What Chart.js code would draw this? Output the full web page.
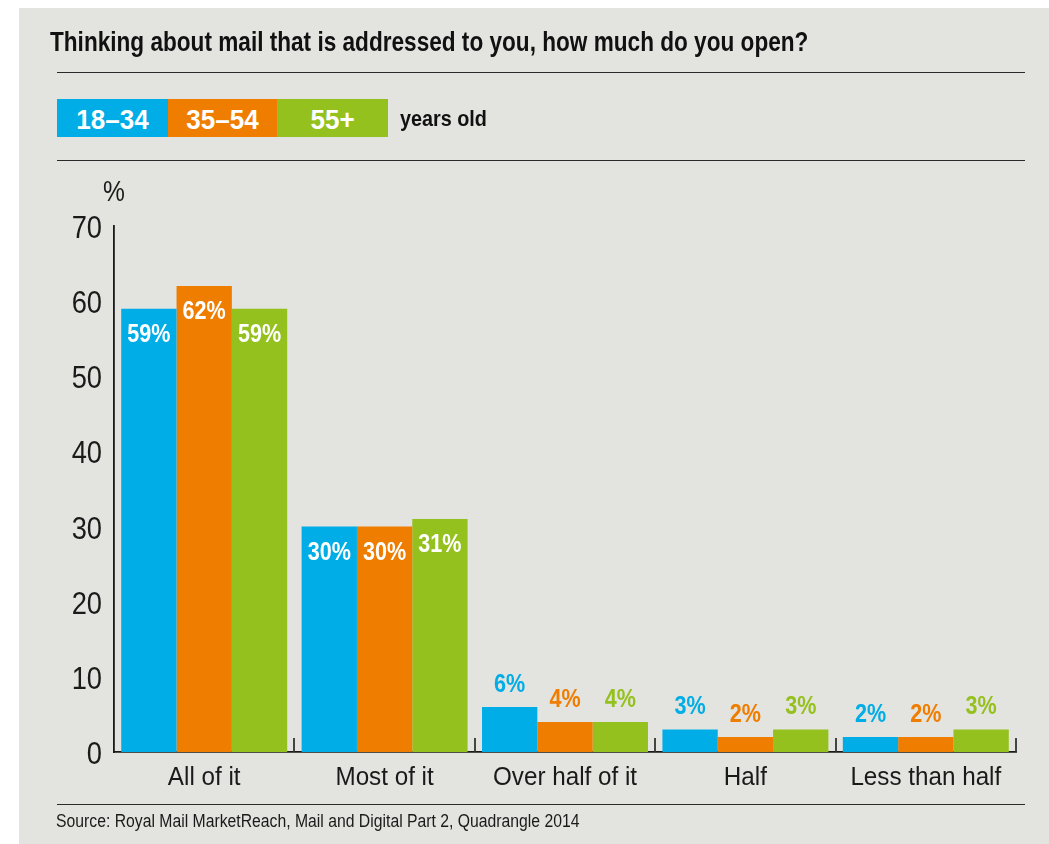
<!DOCTYPE html>
<html>
<head>
<meta charset="utf-8">
<script src="https://cdn.jsdelivr.net/npm/chart.js@4/dist/chart.umd.min.js"></script>
<style>
  html, body { margin: 0; padding: 0; background: #ffffff; }
  body {
    width: 1049px; height: 844px; position: relative; overflow: hidden;
    font-family: 'Liberation Sans', Arial, sans-serif;
    color: #111;
  }
  #panel { position: absolute; left: 19px; top: 8px; right: 0; bottom: 0; background: #e3e3df; }
  #chartWrap { position: absolute; left: 0; top: 0; width: 1049px; height: 844px; }
  .rule { position: absolute; left: 57px; width: 968px; height: 0; border-top: 1.5px solid #2a2a2a; }
  .txt { position: absolute; white-space: nowrap; transform-origin: 0 0; }
  #title { left: 50px; top: 29px; font-weight: bold; font-size: 27px; line-height: 27px; color: #111; transform: scaleX(0.837); }
  .key { position: absolute; top: 99px; height: 38px; }
  .keyLabel {
    position: absolute; left: 0; right: 0; top: 7px; text-align: center;
    color: #fff; font-weight: bold; font-size: 28px; line-height: 28px;
    transform: scaleX(0.93); transform-origin: 50% 0;
  }
  #yearsOld { left: 400px; top: 108px; font-weight: bold; font-size: 22px; line-height: 22px; transform: scaleX(0.9); }
  #unit { left: 103px; top: 176px; font-size: 30px; line-height: 30px; color: #1a1a1a; transform: scaleX(0.82); }
  #source { left: 56px; top: 813px; font-size: 17.5px; line-height: 17.5px; color: #1a1a1a; transform: scaleX(0.9); }
</style>
</head>
<body>
<div id="panel"></div>
<div id="chartWrap"><canvas id="chart" width="1049" height="844"></canvas></div>

<div id="title" class="txt">Thinking about mail that is addressed to you, how much do you open?</div>
<div class="rule" style="top:72px"></div>
<div class="key" style="left:57px;width:111px;background:#00ade6"><div class="keyLabel">18–34</div></div>
<div class="key" style="left:168px;width:109px;background:#ef7d00"><div class="keyLabel">35–54</div></div>
<div class="key" style="left:277px;width:111px;background:#95c11f"><div class="keyLabel">55+</div></div>
<div id="yearsOld" class="txt">years old</div>
<div class="rule" style="top:160px"></div>
<div id="unit" class="txt">%</div>
<div class="rule" style="top:804px"></div>
<div id="source" class="txt">Source: Royal Mail MarketReach, Mail and Digital Part 2, Quadrangle 2014</div>

<script>
// Share of addressed mail opened, by age group (%)
const categories = ['All of it', 'Most of it', 'Over half of it', 'Half', 'Less than half'];
const ageGroups = ['18–34', '35–54', '55+'];
const age18to34 = [59, 30, 6, 3, 2];
const age35to54 = [62, 30, 4, 2, 2];
const age55plus = [59, 31, 4, 3, 3];
const yTicks = [0, 10, 20, 30, 40, 50, 60, 70];

const groupColors = ['#00ade6', '#ef7d00', '#95c11f'];
const FONT = "'Liberation Sans', Arial, sans-serif";

// Draws a horizontally condensed string at (x, y) on the alphabetic baseline
function drawNarrow(ctx, text, x, y, squeeze, align) {
  ctx.save();
  ctx.translate(x, y);
  ctx.scale(squeeze, 1);
  ctx.textAlign = align;
  ctx.textBaseline = 'alphabetic';
  ctx.fillText(text, 0, 0);
  ctx.restore();
}

// Axis labels in a condensed face, category dividers and value labels
const barExtras = {
  id: 'barExtras',
  afterDraw(chart) {
    const ctx = chart.ctx;
    const xs = chart.scales.x;
    const ys = chart.scales.y;
    const bottom = chart.chartArea.bottom;
    const step = xs.width / categories.length;

    ctx.save();
    // y tick labels
    ctx.fillStyle = '#1a1a1a';
    ctx.font = '31px ' + FONT;
    yTicks.forEach(v => drawNarrow(ctx, String(v), xs.left - 12, ys.getPixelForValue(v) + 12, 0.88, 'right'));

    // category labels
    ctx.font = '25.5px ' + FONT;
    categories.forEach((c, i) => drawNarrow(ctx, c, xs.getPixelForValue(i), bottom + 33, 0.95, 'center'));

    // short upward dividers between categories
    ctx.strokeStyle = '#333';
    ctx.lineWidth = 1.8;
    for (let i = 0; i < categories.length; i++) {
      const x = Math.round(xs.getPixelForValue(i) + step / 2);
      ctx.beginPath();
      ctx.moveTo(x, bottom);
      ctx.lineTo(x, bottom - 14);
      ctx.stroke();
    }

    // value labels: white inside tall bars, coloured above short ones
    ctx.font = 'bold 26px ' + FONT;
    chart.data.datasets.forEach((ds, di) => {
      const meta = chart.getDatasetMeta(di);
      meta.data.forEach((bar, i) => {
        const v = ds.data[i];
        const inside = v >= 10;
        ctx.fillStyle = inside ? '#ffffff' : groupColors[di];
        drawNarrow(ctx, v + '%', bar.x, inside ? bar.y + 33 : bar.y - 15, 0.83, 'center');
      });
    });
    ctx.restore();
  }
};

new Chart(document.getElementById('chart'), {
  type: 'bar',
  data: {
    labels: categories,
    datasets: [age18to34, age35to54, age55plus].map((d, i) => ({
      label: ageGroups[i],
      data: d,
      backgroundColor: groupColors[i],
      borderWidth: 0,
      barPercentage: 1,
      categoryPercentage: 0.92
    }))
  },
  options: {
    responsive: false,
    animation: false,
    layout: { padding: { left: 0, top: 226, right: 33, bottom: 0 } },
    plugins: { legend: { display: false }, tooltip: { enabled: false } },
    scales: {
      y: {
        min: 0,
        max: 70,
        afterBuildTicks(scale) { scale.ticks = yTicks.map(v => ({ value: v })); },
        afterFit(scale) { scale.width = 114; },
        grid: { display: false },
        border: { display: true, color: '#1a1a1a', width: 1.8 },
        ticks: { display: false }
      },
      x: {
        afterFit(scale) { scale.height = 92; },
        grid: { display: false },
        border: { display: true, color: '#1a1a1a', width: 1.8 },
        ticks: { display: false }
      }
    }
  },
  plugins: [barExtras]
});
</script>
</body>
</html>
